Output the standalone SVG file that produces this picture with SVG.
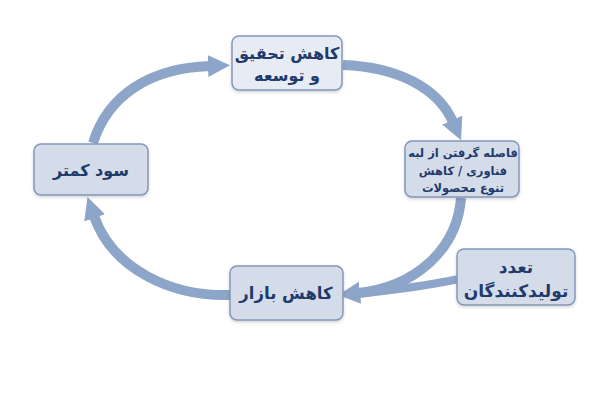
<svg xmlns="http://www.w3.org/2000/svg" width="600" height="400" viewBox="0 0 600 400">
<defs>
<marker id="ah" markerUnits="userSpaceOnUse" markerWidth="24" markerHeight="24" viewBox="0 0 24 24" refX="2" refY="12" orient="auto">
<path d="M0,1 L22,12 L0,23 Z" fill="#8da5c8"/>
</marker>
<filter id="sh" x="-10%" y="-10%" width="120%" height="130%">
<feDropShadow dx="0" dy="1.5" stdDeviation="1.5" flood-color="#000" flood-opacity="0.18"/>
</filter>
</defs>
<style>
.box{fill:#d4dcea;stroke:#8396bb;stroke-width:1.5;filter:url(#sh)}
.t{font-family:"DejaVu Sans",sans-serif;font-weight:bold;fill:#1f3a6b;text-anchor:middle;direction:rtl}
.a{fill:none;stroke:#8da5c8;stroke-width:10;marker-end:url(#ah)}
</style>
<rect width="600" height="400" fill="#fff"/>
<g id="connectors">
<path class="a" d="M93,143 C108,95 150,68 210,66"/>
<path class="a" d="M343,65 C398,67 438,88 453,122"/>
<path class="a" d="M461,198 C457,250 415,287 358,293"/>
<path d="M459,279 C430,285 395,290 356,294" fill="none" stroke="#8da5c8" stroke-width="8"/>
<path class="a" d="M231,295 C170,297 112,268 94,216"/>
</g>
<g id="n1">
<rect class="box" x="232" y="36" width="110" height="54" rx="7" style="fill:#e6ebf4"/>
<text class="t" x="287" y="59" font-size="16">کاهش تحقیق</text>
<text class="t" x="287" y="81" font-size="16">و توسعه</text>
</g>
<g id="n2">
<rect class="box" x="405" y="141" width="114" height="56" rx="7"/>
<text class="t" x="463" y="157" font-size="11.5">فاصله گرفتن از لبه</text>
<text class="t" x="463" y="175" font-size="11.5">فناوری / کاهش</text>
<text class="t" x="463" y="192" font-size="11.5">تنوع محصولات</text>
</g>
<g id="n3">
<rect class="box" x="34" y="144" width="114" height="51" rx="7"/>
<text class="t" x="91" y="176" font-size="16">سود کمتر</text>
</g>
<g id="n4">
<rect class="box" x="230" y="266" width="113" height="54" rx="7"/>
<text class="t" x="286" y="299" font-size="16.5">کاهش بازار</text>
</g>
<g id="n5">
<rect class="box" x="457" y="249" width="118" height="56" rx="7"/>
<text class="t" x="516" y="273" font-size="17">تعدد</text>
<text class="t" x="516" y="297" font-size="17">تولیدکنندگان</text>
</g>
</svg>
